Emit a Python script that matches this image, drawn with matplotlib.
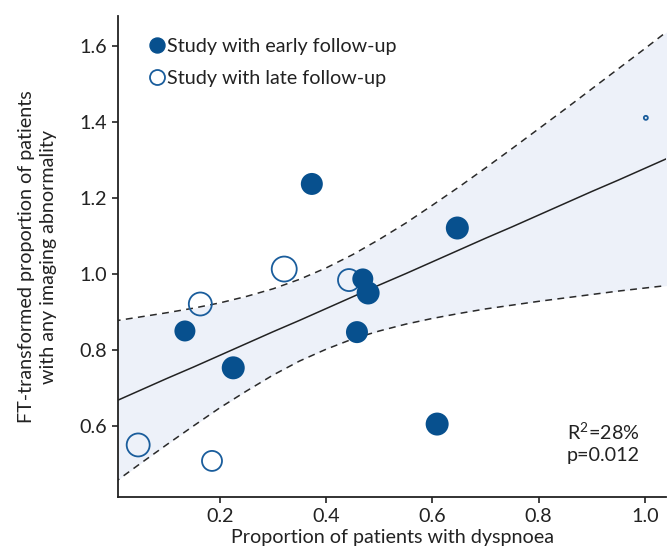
import numpy as np
import matplotlib
matplotlib.use("Agg")
import matplotlib.pyplot as plt
from matplotlib.lines import Line2D

plt.rcParams["font.family"] = ["Lato", "DejaVu Sans"]
plt.rcParams["mathtext.fontset"] = "custom"
plt.rcParams["mathtext.rm"] = "Lato"

# studies with early follow-up (filled)
early_x = [0.373, 0.647, 0.469, 0.479, 0.458, 0.134, 0.225, 0.609]
early_y = [1.237, 1.121, 0.987, 0.950, 0.847, 0.850, 0.753, 0.605]
early_d = [22, 23, 21, 23, 22, 21, 23, 23]   # marker diameter (px)

# studies with late follow-up (open)
late_x = [0.321, 0.443, 0.163, 0.046, 0.185, 1.002]
late_y = [1.013, 0.984, 0.921, 0.550, 0.508, 1.411]
late_d = [25, 22, 23, 23, 20, 4]

# regression line and 95% band
band_x = [0.0, 0.05, 0.1, 0.15, 0.2, 0.25, 0.3, 0.35, 0.4, 0.45, 0.5, 0.55,
          0.6, 0.65, 0.7, 0.75, 0.8, 0.85, 0.9, 0.95, 1.0, 1.05]
fit_y = [0.663, 0.694, 0.725, 0.755, 0.786, 0.817, 0.848, 0.878, 0.909, 0.940, 0.971, 1.001,
         1.032, 1.063, 1.094, 1.124, 1.155, 1.186, 1.217, 1.247, 1.278, 1.309]
upper_y = [0.876, 0.887, 0.898, 0.910, 0.924, 0.941, 0.961, 0.986, 1.016, 1.051, 1.091, 1.134,
           1.181, 1.229, 1.279, 1.330, 1.382, 1.434, 1.487, 1.540, 1.593, 1.647]
lower_y = [0.450, 0.501, 0.551, 0.600, 0.648, 0.692, 0.734, 0.771, 0.802, 0.829, 0.850, 0.868,
           0.883, 0.896, 0.908, 0.918, 0.928, 0.937, 0.946, 0.955, 0.963, 0.971]

dark = "#07508e"
edge = "#1a5d9c"
band = "#edf1f9"
ink = "#222222"
fs = 14.2

fig = plt.figure(figsize=(6.72, 5.56), dpi=100)
ax = fig.add_axes([0.1756, 0.1061, 0.8155, 0.8651])

ax.fill_between(band_x, lower_y, upper_y, color=band, lw=0, zorder=1)
ax.plot(band_x, fit_y, color=ink, lw=1.1, zorder=2)
ax.plot(band_x, upper_y, color="#2a2a2a", lw=1.1, ls=(0, (4.5, 3.5)), zorder=2)
ax.plot(band_x, lower_y, color="#2a2a2a", lw=1.1, ls=(0, (4.5, 3.5)), zorder=2)

def area(d):
    return (np.array(d) * 0.72) ** 2

ax.scatter(late_x, late_y, s=area(late_d), facecolors="none", edgecolors=edge, linewidths=1.3, zorder=3)
ax.scatter(early_x, early_y, s=area(early_d), color=dark, edgecolors="none", zorder=4)

ax.set_xlim(0.008, 1.04)
ax.set_ylim(0.413, 1.679)
ax.set_xticks([0.2, 0.4, 0.6, 0.8, 1.0])
ax.set_yticks([0.6, 0.8, 1.0, 1.2, 1.4, 1.6])
ax.xaxis.set_major_formatter(matplotlib.ticker.FormatStrFormatter("%.1f"))
ax.yaxis.set_major_formatter(matplotlib.ticker.FormatStrFormatter("%.1f"))
ax.tick_params(labelsize=fs, length=4, width=1.2, color=ink, labelcolor=ink, pad=4)
for s in ["top", "right"]:
    ax.spines[s].set_visible(False)
for s in ["left", "bottom"]:
    ax.spines[s].set_linewidth(1.3)
    ax.spines[s].set_color(ink)

ax.set_xlabel("Proportion of patients with dyspnoea", fontsize=fs, color=ink, labelpad=3)
ax.set_ylabel("FT-transformed proportion of patients\nwith any imaging abnormality",
              fontsize=fs, color=ink, labelpad=16, linespacing=1.35)

ax.text(0.819, 0.114, "R$^2$=28%\np=0.012", transform=ax.transAxes, fontsize=fs,
        color=ink, va="center", ha="left", linespacing=1.3)

handles = [
    Line2D([], [], marker="o", ls="none", markersize=10.8, markerfacecolor=dark, markeredgecolor=dark),
    Line2D([], [], marker="o", ls="none", markersize=10.8, markerfacecolor="none", markeredgecolor=edge, markeredgewidth=1.3),
]
ax.legend(handles, ["Study with early follow-up", "Study with late follow-up"],
          loc="upper left", bbox_to_anchor=(0.02, 0.992), frameon=False, fontsize=fs,
          handletextpad=0.05, handlelength=1.0, labelspacing=0.78, labelcolor=ink)

fig.savefig("out.png", dpi=100)
